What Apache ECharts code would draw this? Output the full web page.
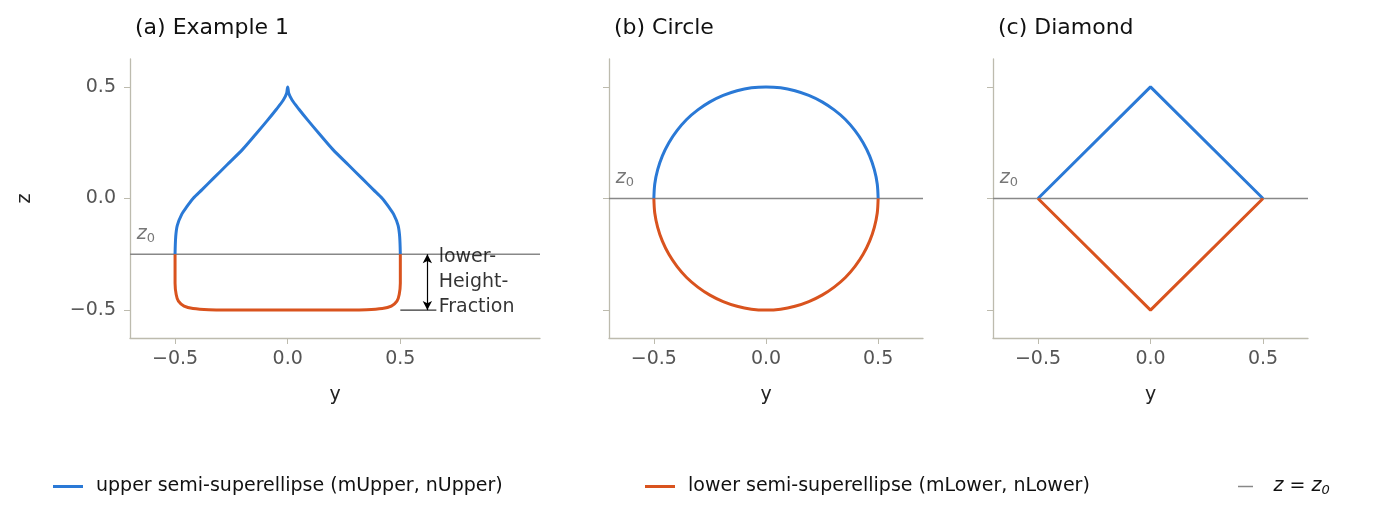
<!DOCTYPE html><html><head><meta charset="utf-8"><script src="https://cdn.jsdelivr.net/npm/echarts@6/dist/echarts.min.js"></script>
<style>body{margin:0}#c{width:1376px;height:525px}</style></head><body><div id="c"></div><script>
const titles=['(a) Example 1','(b) Circle','(c) Diamond'];
const z0s=[-0.25,0,0];
const ex1Upper=[[-0.5,-0.25],[-0.497,-0.17],[-0.49,-0.12],[-0.47,-0.07],[-0.45,-0.04],[-0.42,0.0],[-0.38,0.04],[-0.33,0.09],[-0.27,0.15],[-0.2,0.22],[-0.14,0.29],[-0.09,0.35],[-0.05,0.4],[-0.02,0.44],[-0.005,0.47],[0,0.5],[0.005,0.47],[0.02,0.44],[0.05,0.4],[0.09,0.35],[0.14,0.29],[0.2,0.22],[0.27,0.15],[0.33,0.09],[0.38,0.04],[0.42,0.0],[0.45,-0.04],[0.47,-0.07],[0.49,-0.12],[0.497,-0.17],[0.5,-0.25]];
const ex1Lower=[[-0.5,-0.25],[-0.5,-0.38],[-0.495,-0.43],[-0.485,-0.46],[-0.46,-0.482],[-0.42,-0.493],[-0.35,-0.498],[-0.2,-0.5],[0,-0.5],[0.2,-0.5],[0.35,-0.498],[0.42,-0.493],[0.46,-0.482],[0.485,-0.46],[0.495,-0.43],[0.5,-0.38],[0.5,-0.25]];
const circUpper=[[-0.5,0],[-0.496,0.065],[-0.483,0.129],[-0.462,0.191],[-0.433,0.25],[-0.397,0.304],[-0.354,0.354],[-0.304,0.397],[-0.25,0.433],[-0.191,0.462],[-0.129,0.483],[-0.065,0.496],[0,0.5],[0.065,0.496],[0.129,0.483],[0.191,0.462],[0.25,0.433],[0.304,0.397],[0.354,0.354],[0.397,0.304],[0.433,0.25],[0.462,0.191],[0.483,0.129],[0.496,0.065],[0.5,0]];
const circLower=circUpper.map(p=>[p[0],-p[1]]);
const diaUpper=[[-0.5,0],[0,0.5],[0.5,0]];
const diaLower=[[-0.5,0],[0,-0.5],[0.5,0]];
const xTicks=[-0.5,0,0.5], yTicks=[-0.5,0,0.5];
const uppers=[ex1Upper,circUpper,diaUpper], lowers=[ex1Lower,circLower,diaLower];
const xMax=[1.12,0.7,0.7];
const F='DejaVu Sans';
const grids=[{left:130,width:410},{left:609,width:314},{left:993,width:315}].map(g=>({...g,top:59,height:279}));
const axC='#bdbbae', lab='#555';
const fmt=v=>v===0?'0.0':(v<0?'\u2212':'')+Math.abs(v).toFixed(1);
const xAxis=grids.map((g,i)=>({gridIndex:i,type:'value',min:-0.7,max:xMax[i],name:'y',nameLocation:'middle',nameGap:48,nameTextStyle:{fontSize:19,color:'#222',fontFamily:F},
 axisLine:{onZero:false,lineStyle:{color:axC,width:1.3}},splitLine:{show:false},
 axisLabel:{fontSize:19,color:lab,margin:12,fontFamily:F,formatter:fmt,customValues:xTicks},axisTick:{customValues:xTicks,length:6,lineStyle:{color:axC}}}));
const yAxis=grids.map((g,i)=>({gridIndex:i,type:'value',min:-0.625,max:0.625,name:i===0?'z':'',nameLocation:'middle',nameGap:95,nameTextStyle:{fontSize:19,color:'#222',fontFamily:F},
 axisLine:{onZero:false,lineStyle:{color:axC,width:1.3}},splitLine:{show:false},
 axisLabel:{show:i===0,fontSize:19,color:lab,margin:14,fontFamily:F,formatter:fmt,customValues:yTicks},axisTick:{customValues:yTicks,length:6,lineStyle:{color:axC}}}));
const series=[];
for(let i=0;i<3;i++){
 series.push({name:'z0',type:'line',xAxisIndex:i,yAxisIndex:i,data:[[-0.7,z0s[i]],[xMax[i],z0s[i]]],symbol:'none',itemStyle:{color:'#888'},lineStyle:{color:'#888',width:1.5},silent:true,z:1});
 series.push({name:'upper',type:'line',xAxisIndex:i,yAxisIndex:i,data:uppers[i],symbol:'none',smooth:i===2?false:0.3,itemStyle:{color:'#2a79d6'},lineStyle:{color:'#2a79d6',width:3},z:3});
 series.push({name:'lower',type:'line',xAxisIndex:i,yAxisIndex:i,data:lowers[i],symbol:'none',smooth:i===2?false:0.3,itemStyle:{color:'#d9531e'},lineStyle:{color:'#d9531e',width:3},z:3});
 series.push({type:'scatter',xAxisIndex:i,yAxisIndex:i,symbolSize:0,data:[[-0.67,z0s[i]]],label:{show:true,position:'right',distance:0,offset:[0,-20],formatter:'{i|z}{s|0}',rich:{i:{fontStyle:'italic',fontSize:19,color:'#555',fontFamily:F},s:{fontSize:13,color:'#555',fontFamily:F,verticalAlign:'bottom',padding:[8,0,0,0]}}},silent:true});
}
series.push({type:'line',xAxisIndex:0,yAxisIndex:0,data:[[0.5,-0.5],[0.66,-0.5]],symbol:'none',lineStyle:{color:'#000',width:1},silent:true,
 markLine:{silent:true,symbol:['arrow','arrow'],symbolSize:[7,9],label:{show:false},lineStyle:{color:'#000',width:1.2,type:'solid'},data:[[{coord:[0.62,-0.25]},{coord:[0.62,-0.5]}]]}});
series.push({type:'scatter',xAxisIndex:0,yAxisIndex:0,symbolSize:0,data:[[0.67,-0.375]],label:{show:true,position:'right',distance:0,formatter:'lower-\nHeight-\nFraction',fontSize:19,lineHeight:25,color:'#000',fontFamily:F},silent:true});
const lg=(name,left,text)=>({data:[{name,icon:'path://M0,0H10V1H0Z'}],left,top:472,itemWidth:46,itemHeight:3,textStyle:{fontSize:19,color:'#111',fontFamily:F,rich:{i:{fontStyle:'italic',fontSize:19,fontFamily:F},s:{fontStyle:'italic',fontSize:13,fontFamily:F,verticalAlign:'bottom',padding:[8,0,0,0]}}},formatter:()=>text});
const chart=echarts.init(document.getElementById('c'));
chart.setOption({animation:false,backgroundColor:'#fff',textStyle:{fontFamily:F},grid:grids,xAxis,yAxis,series,
 title:titles.map((t,i)=>({text:t,left:grids[i].left,top:12,textStyle:{fontSize:22,fontWeight:'normal',color:'#111',fontFamily:F}})),
 legend:[lg('upper',48,'upper semi-superellipse (mUpper, nUpper)'),lg('lower',640,'lower semi-superellipse (mLower, nLower)'),{...lg('z0',1233,'{i|z} = {i|z}{s|0}'),itemHeight:1.5}]});
</script></body></html>
